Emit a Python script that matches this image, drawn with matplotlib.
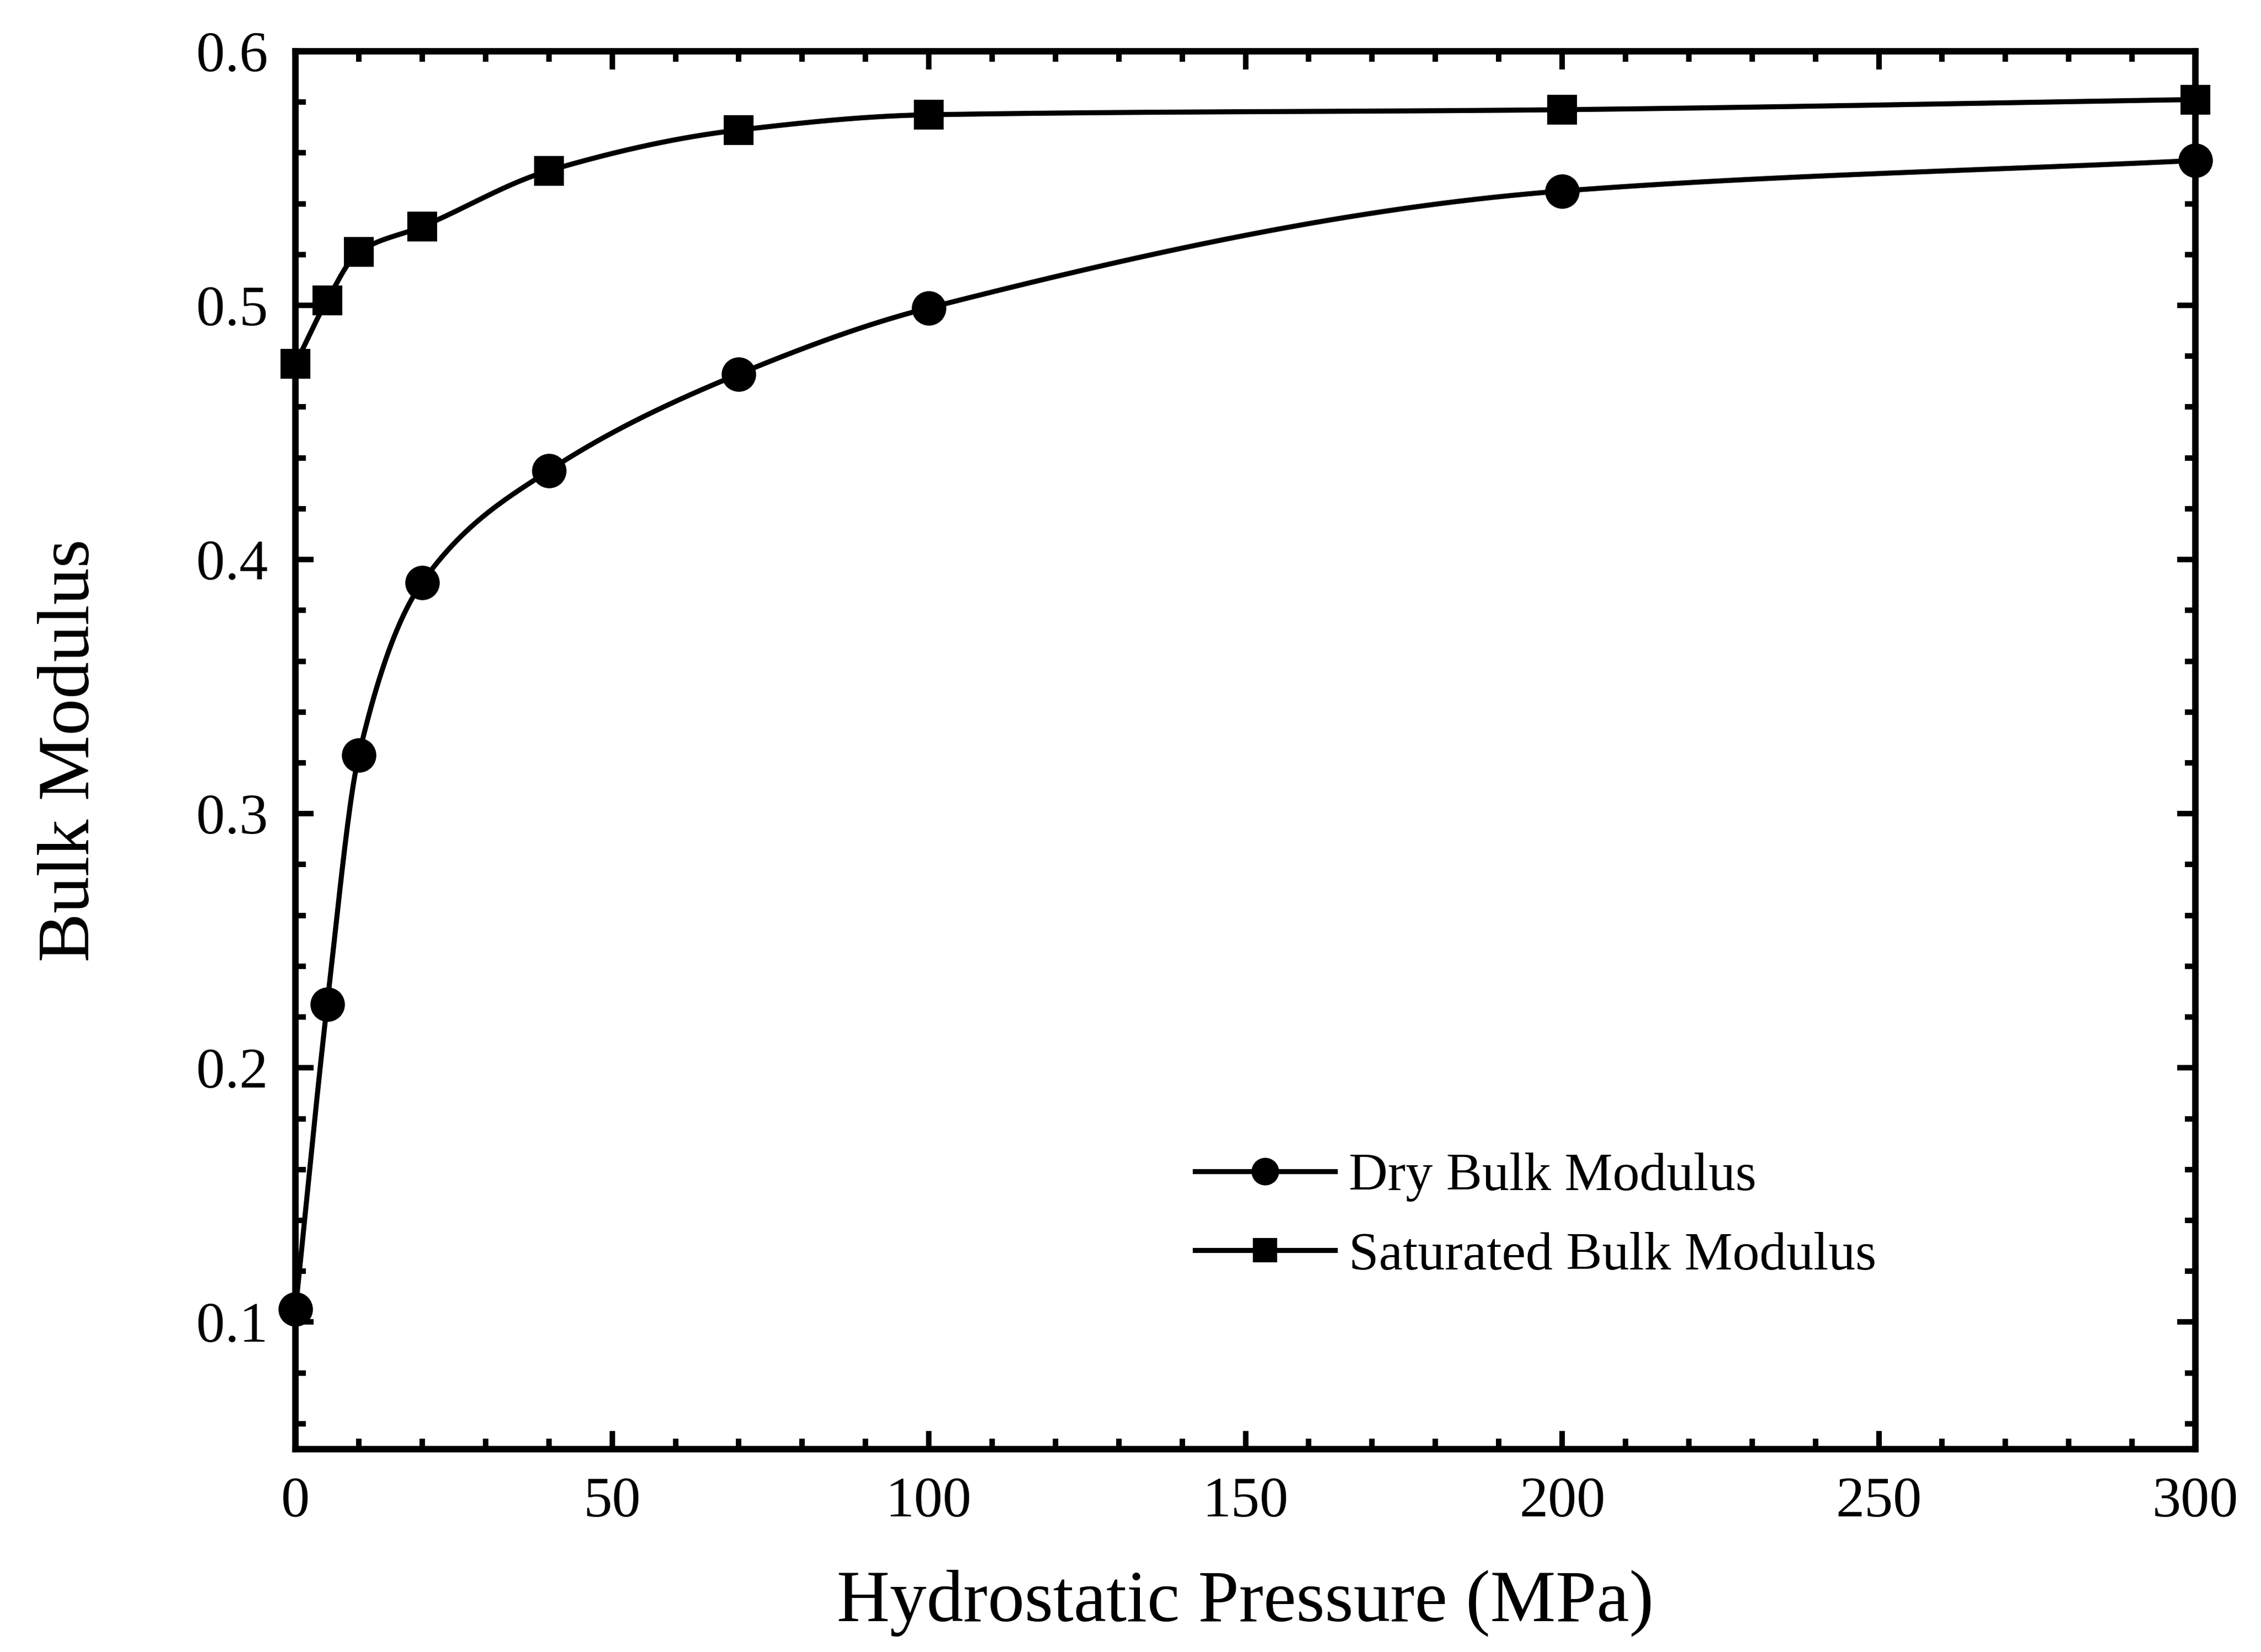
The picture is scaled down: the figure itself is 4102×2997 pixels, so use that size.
import numpy as np
import matplotlib
matplotlib.use("Agg")
import matplotlib.pyplot as plt
from matplotlib.ticker import MultipleLocator

pressure = [0, 5, 10, 20, 40, 70, 100, 200, 300]
dry_k = [0.105, 0.225, 0.323, 0.391, 0.435, 0.473, 0.499, 0.545, 0.557]
sat_k = [0.477, 0.502, 0.521, 0.531, 0.553, 0.569, 0.575, 0.577, 0.581]

x_ticks = [0, 50, 100, 150, 200, 250, 300]
y_ticks = [0.1, 0.2, 0.3, 0.4, 0.5, 0.6]


def pchip(x, y, xs):
    """Monotone cubic (Fritsch-Carlson) curve through the measured points."""
    x = np.asarray(x, float)
    y = np.asarray(y, float)
    h = np.diff(x)
    d = np.diff(y) / h
    m = np.zeros_like(y)
    for k in range(1, len(x) - 1):
        if d[k - 1] * d[k] > 0:
            w1 = 2 * h[k] + h[k - 1]
            w2 = h[k] + 2 * h[k - 1]
            m[k] = (w1 + w2) / (w1 / d[k - 1] + w2 / d[k])
    m[0] = d[0]
    m[-1] = d[-1]
    idx = np.clip(np.searchsorted(x, xs) - 1, 0, len(h) - 1)
    t = (xs - x[idx]) / h[idx]
    h00 = 2 * t**3 - 3 * t**2 + 1
    h10 = t**3 - 2 * t**2 + t
    h01 = -2 * t**3 + 3 * t**2
    h11 = t**3 - t**2
    return (h00 * y[idx] + h10 * h[idx] * m[idx]
            + h01 * y[idx + 1] + h11 * h[idx] * m[idx + 1])


plt.rcParams["font.family"] = ["Liberation Serif", "DejaVu Serif"]

fig = plt.figure(figsize=(4102 / 300, 2997 / 300), dpi=300)
ax = fig.add_axes([0.1307, 0.1228, 0.971 - 0.1307, 0.969 - 0.1228])

xs = np.linspace(0, 300, 1500)
ax.plot(xs, pchip(pressure, dry_k, xs), color="black", lw=2.2)
ax.plot(xs, pchip(pressure, sat_k, xs), color="black", lw=2.2)
ax.plot(pressure, dry_k, "o", color="black", ms=14, clip_on=False)
ax.plot(pressure, sat_k, "s", color="black", ms=12, clip_on=False)

# legend handles: line with marker in the middle
h_dry, = ax.plot([], [], "-o", color="black", lw=2.2, ms=11)
h_sat, = ax.plot([], [], "-s", color="black", lw=2.2, ms=9.5)
ax.legend([h_dry, h_sat], ["Dry Bulk Modulus", "Saturated Bulk Modulus"],
          loc="lower left", bbox_to_anchor=(0.462, 0.105), frameon=False,
          fontsize=23.5, handlelength=2.6, handletextpad=0.25,
          labelspacing=0.55, borderaxespad=0, numpoints=1)

ax.set_xlim(0, 300)
ax.set_ylim(0.05, 0.6)
ax.set_xticks(x_ticks)
ax.set_yticks(y_ticks)
ax.set_xticklabels([str(v) for v in x_ticks])
ax.set_yticklabels([f"{v:.1f}" for v in y_ticks])
ax.xaxis.set_minor_locator(MultipleLocator(10))
ax.yaxis.set_minor_locator(MultipleLocator(0.02))
ax.tick_params(which="both", direction="in", top=True, right=True,
               width=2.4, labelsize=25, pad=12)
ax.tick_params(which="major", length=8)
ax.tick_params(which="minor", length=4.5)
for s in ax.spines.values():
    s.set_linewidth(2.8)

ax.set_xlabel("Hydrostatic Pressure (MPa)", fontsize=32, labelpad=18)
ax.set_ylabel("Bulk Modulus", fontsize=32, labelpad=40)

fig.savefig("out.png", dpi=300, facecolor="white")
